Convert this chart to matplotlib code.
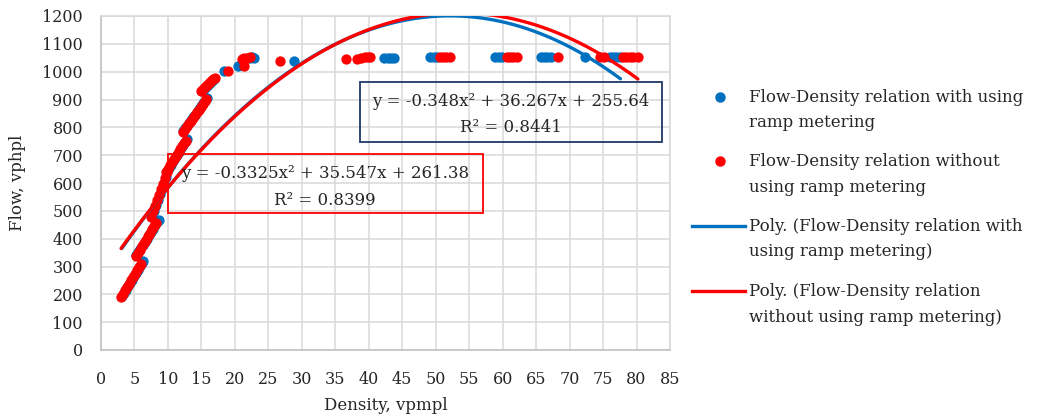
import numpy as np
import matplotlib
matplotlib.use("Agg")
import matplotlib.pyplot as plt
from matplotlib.lines import Line2D
from matplotlib.patches import Rectangle

# ---------------- data ----------------
blue_density = [3.1, 3.4, 3.7, 4.0, 4.3, 4.6, 4.9, 5.2, 5.5, 5.8, 6.1, 6.3,
                5.3, 5.6, 5.9, 6.2, 6.5, 6.8, 7.1, 7.4, 7.7, 8.0, 8.3, 8.6,
                7.6, 7.9, 8.2, 8.5, 8.8, 9.1, 9.4, 9.7,
                9.8, 10.1, 10.4, 10.7, 11.0, 11.3, 11.6, 11.9, 12.2, 12.5, 12.9,
                12.3, 12.6, 12.9, 13.2, 13.5, 13.8, 14.1, 14.4, 14.7, 15.0, 15.3, 15.6, 15.9,
                15.1, 15.4, 15.7, 16.0, 16.3, 16.6, 16.9,
                18.3, 20.4, 22.2, 22.6, 22.9, 28.8,
                42.3, 42.8, 43.3, 43.8, 49.2, 49.7, 50.2,
                58.9, 59.4, 59.9, 65.7, 66.2, 66.7, 67.2, 72.3,
                76.0, 76.5, 77.0, 77.6]
blue_flow = [193, 205, 217, 229, 241, 253, 265, 277, 289, 301, 313, 320,
             340, 352, 364, 376, 388, 400, 412, 424, 436, 448, 460, 468,
             480, 500, 520, 540, 560, 580, 600, 620,
             643, 655, 666, 678, 689, 701, 712, 724, 735, 747, 758,
             786, 796, 806, 816, 826, 836, 846, 856, 866, 876, 886, 896, 907,
             932, 939, 946, 953, 960, 967, 974,
             1004, 1020, 1050, 1052, 1048, 1040,
             1050, 1050, 1050, 1050, 1054, 1054, 1054,
             1054, 1054, 1054, 1052, 1052, 1052, 1052, 1052,
             1052, 1052, 1052, 1052]

red_density = [3.0, 3.3, 3.6, 3.9, 4.2, 4.5, 4.8, 5.1, 5.4, 5.7, 6.0,
               5.2, 5.5, 5.8, 6.1, 6.4, 6.7, 7.0, 7.3, 7.6, 7.9, 8.2,
               7.5, 7.8, 8.1, 8.4, 8.7, 9.0, 9.3, 9.6, 9.9,
               9.7, 10.0, 10.3, 10.6, 10.9, 11.2, 11.5, 11.8, 12.1, 12.4, 12.7,
               12.2, 12.5, 12.8, 13.1, 13.4, 13.7, 14.0, 14.3, 14.6, 14.9, 15.2, 15.5, 15.7,
               15.0, 15.3, 15.6, 15.9, 16.2, 16.5, 16.8, 17.1,
               18.9, 21.4, 21.0, 21.4, 21.8, 22.2, 26.7,
               36.6, 38.3, 38.8, 39.4, 39.9, 40.2,
               50.6, 51.1, 51.6, 52.2, 60.6, 61.1, 61.6, 62.1, 68.3,
               74.6, 75.2, 78.0, 78.5, 79.0, 79.5, 80.2]
red_flow = [190, 202, 214, 226, 238, 250, 262, 274, 286, 298, 310,
            337, 349, 361, 373, 385, 397, 409, 421, 433, 445, 457,
            478, 498, 518, 538, 558, 578, 598, 618, 638,
            640, 652, 663, 675, 686, 698, 709, 721, 732, 744, 752,
            784, 794, 804, 814, 824, 834, 844, 854, 864, 874, 884, 894, 902,
            930, 937, 944, 951, 958, 965, 972, 979,
            1004, 1020, 1045, 1050, 1048, 1052, 1040,
            1045, 1045, 1048, 1053, 1054, 1053,
            1054, 1054, 1054, 1054, 1054, 1054, 1054, 1054, 1054,
            1052, 1052, 1052, 1052, 1052, 1052, 1052]

# trendline coefficients shown on the chart (a, b, c for a*x^2 + b*x + c)
blue_coef = [-0.348, 36.267, 255.64]
red_coef = [-0.3325, 35.547, 261.38]
blue_r2 = "0.8441"
red_r2 = "0.8399"

x_ticks = list(range(0, 90, 5))
y_ticks = list(range(0, 1300, 100))

legend_labels = [
    ["Flow-Density relation with using", "ramp metering"],
    ["Flow-Density relation without", "using ramp metering"],
    ["Poly. (Flow-Density relation with", "using ramp metering)"],
    ["Poly. (Flow-Density relation", "without using ramp metering)"],
]

# ---------------- style ----------------
BLUE = "#0070C0"
RED = "#FF0000"
GRID = "#D9D9D9"
TXT = "#262626"
FONT = "DejaVu Serif"
FS = 12
plt.rcParams["font.family"] = [FONT]

W, H = 1040, 418
fig = plt.figure(figsize=(W / 100, H / 100), dpi=100)
ax = fig.add_axes([101 / W, 1 - 350 / H, (670 - 101) / W, (350 - 16) / H])


def fx(px):
    return px / W


def fy(py):
    return 1 - py / H


ms = 55
ax.scatter(blue_density, blue_flow, s=ms, color=BLUE, linewidths=0, zorder=3)
ax.scatter(red_density, red_flow, s=ms, color=RED, linewidths=0, zorder=4)

xb = np.linspace(min(blue_density), max(blue_density), 300)
xr = np.linspace(min(red_density), max(red_density), 300)
ax.plot(xb, np.polyval(blue_coef, xb), color=BLUE, lw=2.4, zorder=5, solid_capstyle="round")
ax.plot(xr, np.polyval(red_coef, xr), color=RED, lw=2.4, zorder=6, solid_capstyle="round")

ax.set_xlim(0, 85)
ax.set_ylim(0, 1200)
ax.set_xticks(x_ticks)
ax.set_yticks(y_ticks)
ax.grid(True, color=GRID, lw=1.1, zorder=0)
ax.set_axisbelow(True)
for s in ax.spines.values():
    s.set_color(GRID)
    s.set_linewidth(1.1)
ax.spines["left"].set_color("#BFBFBF")
ax.spines["bottom"].set_color("#BFBFBF")
ax.tick_params(length=0, labelsize=11.5, labelcolor=TXT)
ax.tick_params(axis="x", pad=15)
ax.tick_params(axis="y", pad=13)

fig.text(fx(18), fy(183), "Flow, vphpl", rotation=90, ha="center", va="center",
         fontsize=FS, color=TXT)
fig.text(fx(386), fy(406), "Density, vpmpl", ha="center", va="center",
         fontsize=FS, color=TXT)


def eq_text(a, b, c):
    return f"y = {a}x² + {b}x + {c}"


# equation boxes
fig.add_artist(Rectangle((fx(360), fy(142)), fx(662) - fx(360), fy(82) - fy(142),
                         transform=fig.transFigure, fill=False, ec="#1F3864", lw=1.3))
fig.text(fx(511), fy(102), eq_text(blue_coef[0], blue_coef[1], blue_coef[2]),
         ha="center", va="center", fontsize=FS, color=TXT)
fig.text(fx(511), fy(127), "R² = " + blue_r2, ha="center", va="center",
         fontsize=FS, color=TXT)

fig.add_artist(Rectangle((fx(168), fy(213)), fx(483) - fx(168), fy(154) - fy(213),
                         transform=fig.transFigure, fill=False, ec=RED, lw=1.3))
fig.text(fx(325), fy(173), eq_text(red_coef[0], red_coef[1], red_coef[2]),
         ha="center", va="center", fontsize=FS, color=TXT, zorder=7)
fig.text(fx(325), fy(200), "R² = " + red_r2, ha="center", va="center",
         fontsize=FS, color=TXT)

# legend (manual)
entry_y = [97, 161, 226, 291]
for i, (labels, yy) in enumerate(zip(legend_labels, entry_y)):
    if i < 2:
        col = BLUE if i == 0 else RED
        fig.add_artist(Line2D([fx(720)], [fy(yy)], transform=fig.transFigure,
                              marker="o", ms=6.5, color=col, lw=0))
    else:
        col = BLUE if i == 2 else RED
        fig.add_artist(Line2D([fx(692), fx(745)], [fy(yy), fy(yy)], transform=fig.transFigure,
                              color=col, lw=2.4))
    fig.text(fx(749), fy(yy), labels[0], ha="left", va="center", fontsize=FS, color=TXT)
    fig.text(fx(749), fy(yy + 26), labels[1], ha="left", va="center", fontsize=FS, color=TXT)

fig.savefig("out.png", dpi=100)
